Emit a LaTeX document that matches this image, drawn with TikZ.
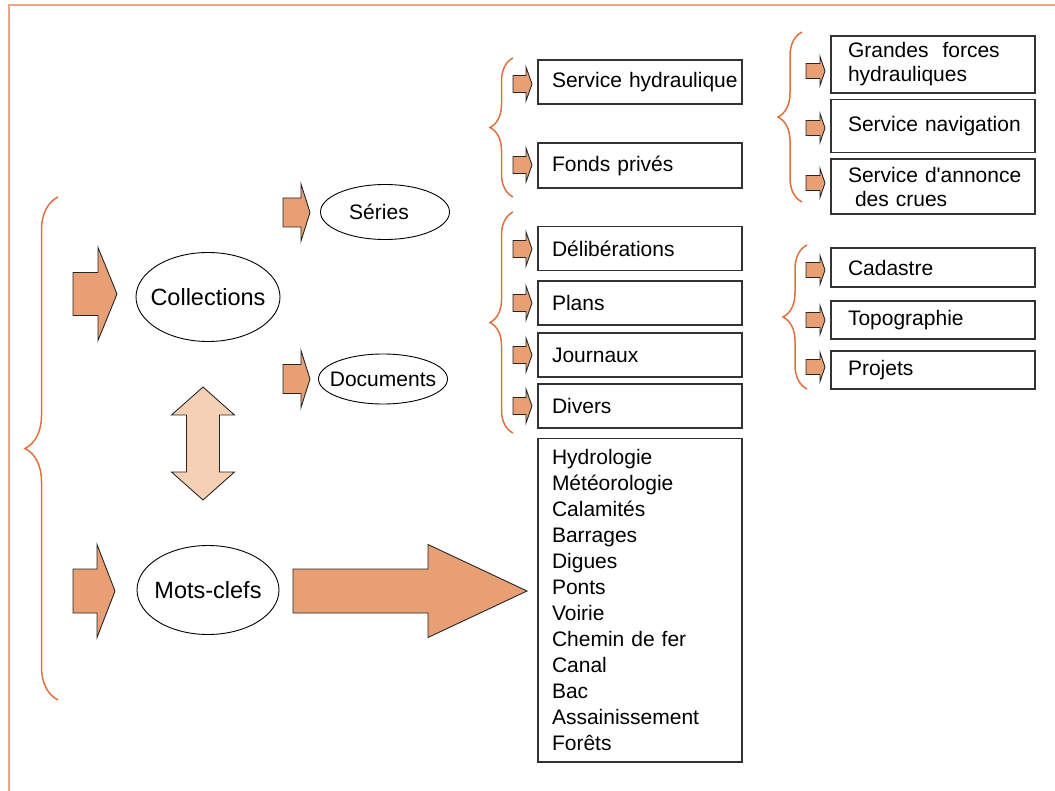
\documentclass[tikz,border=0pt]{standalone}
\usepackage{fontspec}
\setmainfont{Liberation Sans}
\usetikzlibrary{decorations.pathreplacing}
\definecolor{arrowcol}{HTML}{E89F73}
\definecolor{paleorange}{HTML}{F5D0B5}
\definecolor{bracecol}{HTML}{E2703F}
\definecolor{framecol}{HTML}{EDA58A}
\tikzset{
  oval/.style={draw, line width=0.9pt},
  box/.style={draw=black!80, line width=1.1pt, minimum width=204pt, text width=176pt,
    inner xsep=14pt, inner ysep=0pt, align=left, font=\fontsize{21}{24}\selectfont,
    execute at begin node={\rightskip=0pt plus 2em minus 30pt}},
  rbox/.style={box, text width=170pt, inner xsep=17pt},
  curly/.style={draw=bracecol, line width=1.5pt, decorate, decoration={brace, amplitude=#1}},
  pics/blockarrow/.style n args={4}{code={
    \filldraw[fill=arrowcol, draw=black!85, line width=0.9pt]
      (0,-#1) -- (#2,-#1) -- (#2,-#3) -- (#4,0) -- (#2,#3) -- (#2,#1) -- (0,#1) -- cycle;}}
}
\begin{document}
\begin{tikzpicture}[x=1pt,y=-1pt]
  \useasboundingbox (0,0) rectangle (1055,791);
  \draw[framecol, line width=1.5pt] (9,791) -- (9,5) -- (1055,5);

  \node[font=\fontsize{23.5}{26}\selectfont] (coll) at (208,297) {Collections};
  \node[font=\fontsize{23.5}{26}\selectfont] (mots) at (208,590) {Mots-clefs};
  \node[font=\fontsize{21}{24}\selectfont] (series) at (379,212) {Séries};
  \node[font=\fontsize{21}{24}\selectfont] (docs) at (383,379) {Documents};
  \draw[oval] (coll) ellipse [x radius=72, y radius=44.5];
  \draw[oval] (mots) ellipse [x radius=71, y radius=44.5];
  \draw[oval] ([xshift=6]series.center) ellipse [x radius=64.5, y radius=27.5];
  \draw[oval] (docs) ellipse [x radius=64.5, y radius=25];

  \node[box, minimum height=44pt] (hydr) at (640,82) {Service hydraulique};
  \node[box, minimum height=45pt] (prives) at (640,165.5) {Fonds privés};
  \node[box, minimum height=44pt] (delib) at (640,248.5) {Délibérations};
  \node[box, minimum height=44pt] (plans) at (640,303) {Plans};
  \node[box, minimum height=44pt] (journ) at (640,355) {Journaux};
  \node[box, minimum height=44pt] (divers) at (640,406) {Divers};
  \node[box, anchor=north, inner ysep=11pt, font=\fontsize{21}{26}\selectfont] (motlist) at (640,438)
    {Hydrologie\\Météorologie\\Calamités\\Barrages\\Digues\\Ponts\\Voirie\\Chemin de fer\\Canal\\Bac\\Assainissement\\Forêts};

  \node[rbox, minimum height=57pt] (forces) at (933,64.5) {Grandes\ \ forces\\hydrauliques};
  \node[rbox, minimum height=53pt] (navig) at (933,126) {Service navigation};
  \node[rbox, minimum height=55pt] (crues) at (933,186.5) {Service d\textquotesingle annonce\\\ des crues};
  \node[rbox, minimum height=39pt] (cadas) at (933,267.5) {Cadastre};
  \node[rbox, minimum height=38pt] (topo) at (933,320) {Topographie};
  \node[rbox, minimum height=38pt] (proj) at (933,370) {Projets};

  \pic at (73,294) {blockarrow={21.5}{25}{46.5}{44}};
  \pic at (73,591) {blockarrow={22}{24}{46.5}{42}};
  \pic at (293,591) {blockarrow={22}{135}{46.5}{234}};
  \pic at (283,212.5) {blockarrow={14.5}{18}{28.5}{27}};
  \pic at (283,379) {blockarrow={14.5}{18}{28.5}{27}};
  \foreach \y in {84,165,249,303,355,406}
    \pic at (513,\y) {blockarrow={8.5}{13}{17}{19}};
  \foreach \y in {71,128,183,270,320,367}
    \pic at (806,\y) {blockarrow={7.5}{14}{14.5}{19}};

  \filldraw[fill=paleorange, draw=black!85, line width=0.9pt]
    (203,387) -- (234.5,415) -- (219.5,415) -- (219.5,472) -- (234.5,472) -- (203,500)
    -- (171.5,472) -- (186.5,472) -- (186.5,415) -- (171.5,415) -- cycle;

  \draw[curly=33pt] (58,700) -- (58,197);
  \draw[curly=23pt] (513,197) -- (513,58);
  \draw[curly=23pt] (513,433) -- (513,212);
  \draw[curly=24pt] (802,202) -- (802,32);
  \draw[curly=24pt] (807,389) -- (807,245);
\end{tikzpicture}
\end{document}
